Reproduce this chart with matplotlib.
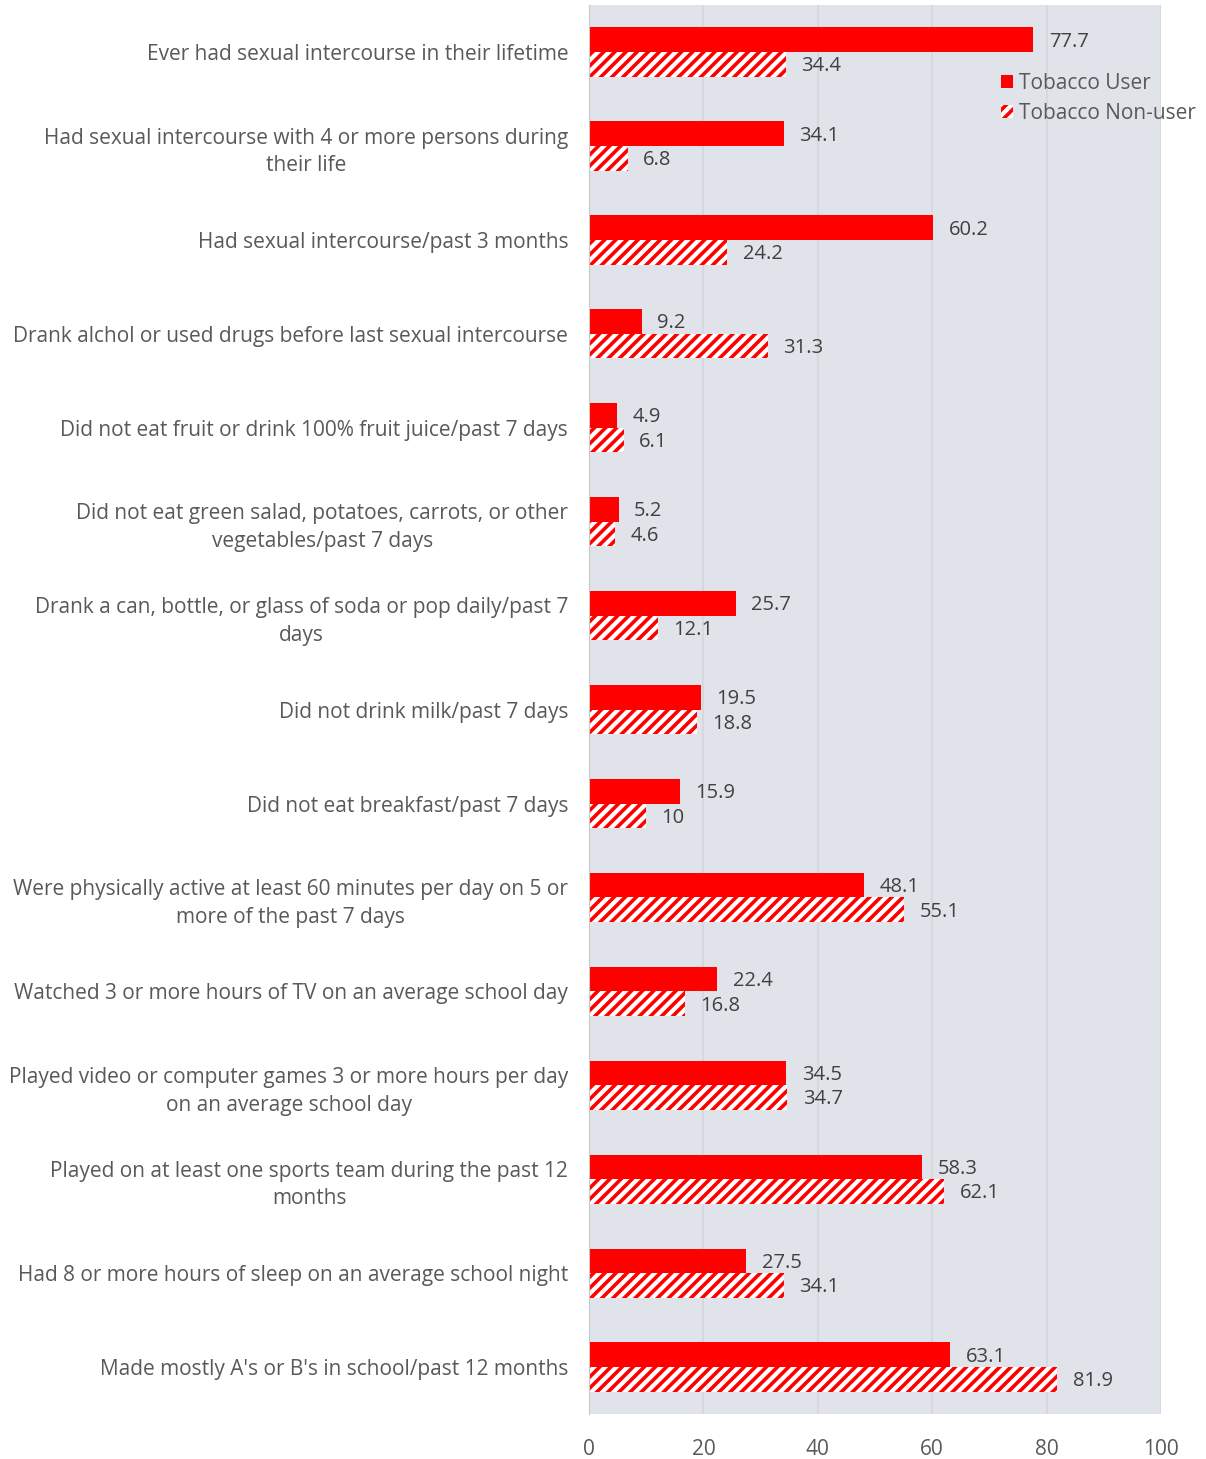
import numpy as np
import matplotlib.pyplot as plt
import matplotlib as mpl

plt.rcParams['font.family'] = ['Open Sans', 'DejaVu Sans']
mpl.rcParams['hatch.linewidth'] = 2.6
mpl.rcParams['hatch.color'] = '#ff0000'

categories = [
    "Ever had sexual intercourse in their lifetime",
    "Had sexual intercourse with 4 or more persons during\ntheir life",
    "Had sexual intercourse/past 3 months",
    "Drank alchol or used drugs before last sexual intercourse",
    "Did not eat fruit or drink 100% fruit juice/past 7 days",
    "Did not eat green salad, potatoes, carrots, or other\nvegetables/past 7 days",
    "Drank a can, bottle, or glass of soda or pop daily/past 7\ndays",
    "Did not drink milk/past 7 days",
    "Did not eat breakfast/past 7 days",
    "Were physically active at least 60 minutes per day on 5 or\nmore of the past 7 days",
    "Watched 3 or more hours of TV on an average school day",
    "Played video or computer games 3 or more hours per day\non an average school day",
    "Played on at least one sports team during the past 12\nmonths",
    "Had 8 or more hours of sleep on an average school night",
    "Made mostly A's or B's in school/past 12 months",
]
user = [77.7, 34.1, 60.2, 9.2, 4.9, 5.2, 25.7, 19.5, 15.9, 48.1, 22.4, 34.5, 58.3, 27.5, 63.1]
nonuser = [34.4, 6.8, 24.2, 31.3, 6.1, 4.6, 12.1, 18.8, 10, 55.1, 16.8, 34.7, 62.1, 34.1, 81.9]
user_labels = ["77.7", "34.1", "60.2", "9.2", "4.9", "5.2", "25.7", "19.5", "15.9", "48.1", "22.4", "34.5", "58.3", "27.5", "63.1"]
nonuser_labels = ["34.4", "6.8", "24.2", "31.3", "6.1", "4.6", "12.1", "18.8", "10", "55.1", "16.8", "34.7", "62.1", "34.1", "81.9"]

fig = plt.figure(figsize=(12.06, 14.59), dpi=100)
ax = fig.add_axes([0.4884, 0.0308, 0.4743, 0.9657])
ax.set_facecolor('#e0e4ea')

txt = '#595959'
y = np.arange(len(categories))
h = 0.262
b1 = ax.barh(y - h / 2, user, height=h, color='#ff0000', label='Tobacco User')
b2 = ax.barh(y + h / 2, nonuser, height=h, color='white', edgecolor='#ff0000',
             linewidth=0, hatch='///', label='Tobacco Non-user')

for bar, t in zip(b1, user_labels):
    ax.text(bar.get_width() + 2.7, bar.get_y() + bar.get_height() / 2 + 0.02, t,
            va='center', ha='left', fontsize=14.5, color='#404040')
for bar, t in zip(b2, nonuser_labels):
    ax.text(bar.get_width() + 2.7, bar.get_y() + bar.get_height() / 2 + 0.02, t,
            va='center', ha='left', fontsize=14.5, color='#404040')

ax.set_xlim(0, 100)
ax.set_ylim(len(categories) - 0.5, -0.5)
ax.set_xticks([0, 20, 40, 60, 80, 100])
ax.set_yticks(y)
ax.set_yticklabels(categories, fontsize=15, color=txt, linespacing=1.42,
                   multialignment='center')
ax.tick_params(axis='x', labelsize=15, colors=txt, length=0, pad=18)
ax.tick_params(axis='y', length=0, pad=15)
ax.xaxis.grid(True, color='#d4d6da', linewidth=1.2)
ax.set_axisbelow(True)
for s in ['top', 'right', 'bottom']:
    ax.spines[s].set_visible(False)
ax.spines['left'].set_color('#c8c8c8')

leg = fig.legend(loc='upper left', bbox_to_anchor=(0.823, 0.956), frameon=False,
                 fontsize=15, handlelength=0.6, handleheight=0.6, handletextpad=0.25,
                 labelspacing=0.45, borderaxespad=0)
for t in leg.get_texts():
    t.set_color(txt)

fig.savefig('out.png', dpi=100)
